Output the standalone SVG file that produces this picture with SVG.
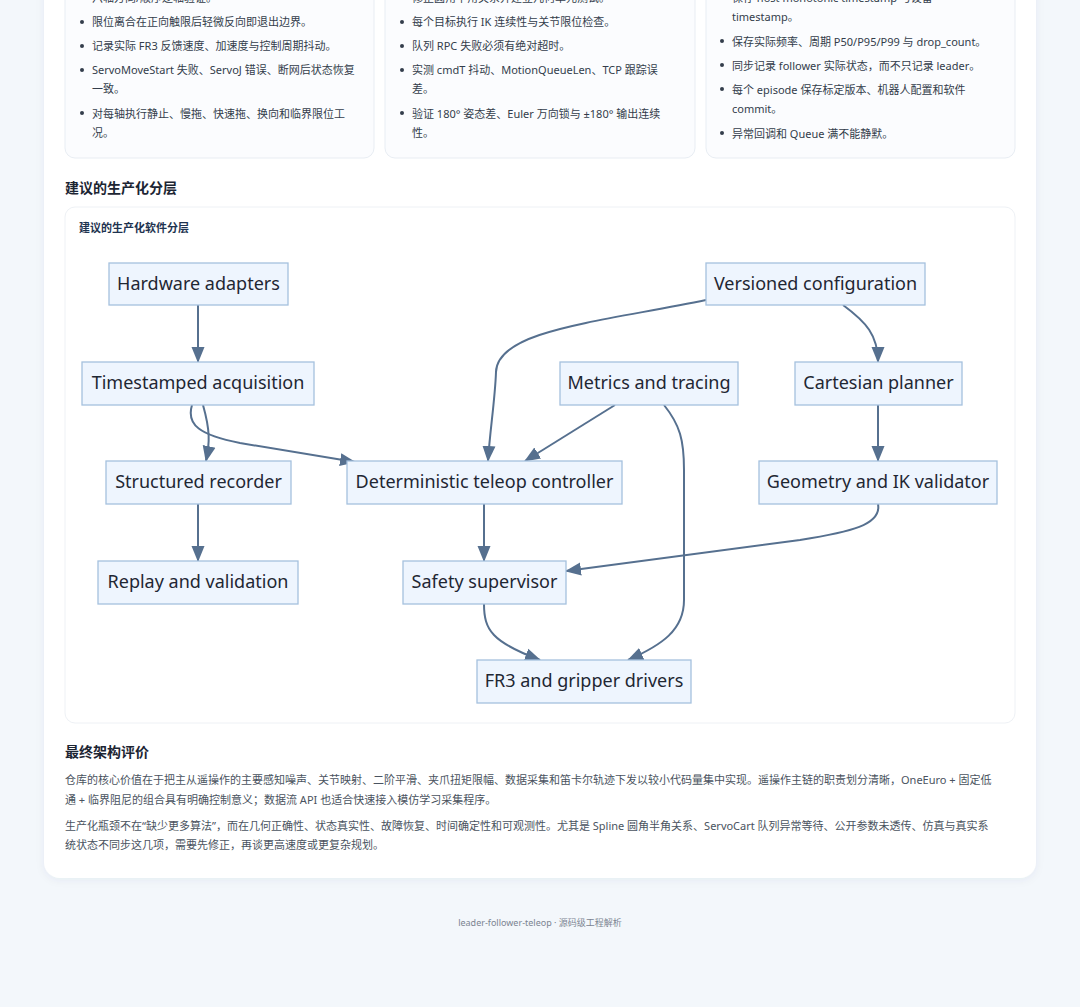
<svg xmlns="http://www.w3.org/2000/svg" width="1080" height="1007" viewBox="0 0 1080 1007">
<defs>
<marker id="arr" markerUnits="userSpaceOnUse" markerWidth="16" markerHeight="14" viewBox="0 0 16 14" refX="15" refY="7" orient="auto">
<path d="M0,0.5 L16,7 L0,13.5 z" fill="#56708f"/>
</marker>
<filter id="sh" x="-5%" y="-5%" width="110%" height="110%">
<feDropShadow dx="0" dy="2" stdDeviation="4" flood-color="#1e3a5f" flood-opacity="0.06"/>
</filter>
</defs>
<style>
.bul{font-family:"Noto Sans","Noto Sans CJK SC",sans-serif;font-size:11px;fill:#333d4b}
.dot{fill:#333d4b}
.card{fill:#fbfcfe;stroke:#e8edf3;stroke-width:1}
.h2{font-family:"Noto Sans","Noto Sans CJK SC",sans-serif;font-size:14px;font-weight:700;fill:#1c2533}
.para{font-family:"Noto Sans","Noto Sans CJK SC",sans-serif;font-size:11px;fill:#4a5360}
.node rect{fill:#eef5fe;stroke:#a5c1de;stroke-width:1.3}
.node text{font-family:"Noto Sans","Noto Sans CJK SC",sans-serif;font-size:18px;fill:#1f2733;text-anchor:middle}
.edge{fill:none;stroke:#56708f;stroke-width:2;marker-end:url(#arr)}
</style>
<rect x="0" y="0" width="1080" height="1007" fill="#f3f7fb"/>
<rect x="44" y="-40" width="992" height="918" rx="16" fill="#ffffff" filter="url(#sh)"/>

<g id="card-left">
<rect class="card" x="65" y="-20" width="309" height="178" rx="10"/>
<circle class="dot" cx="82" cy="-2" r="2"/><text class="bul" x="92" y="2">六轴方向/顺序逐轴验证。</text>
<circle class="dot" cx="82" cy="22" r="2"/><text class="bul" x="92" y="26">限位离合在正向触限后轻微反向即退出边界。</text>
<circle class="dot" cx="82" cy="46" r="2"/><text class="bul" x="92" y="50">记录实际 FR3 反馈速度、加速度与控制周期抖动。</text>
<circle class="dot" cx="82" cy="70" r="2"/><text class="bul" x="92" y="74">ServoMoveStart 失败、ServoJ 错误、断网后状态恢复</text>
<text class="bul" x="92" y="93">一致。</text>
<circle class="dot" cx="82" cy="113" r="2"/><text class="bul" x="92" y="118">对每轴执行静止、慢拖、快速拖、换向和临界限位工</text>
<text class="bul" x="92" y="137">况。</text>
</g>

<g id="card-middle">
<rect class="card" x="385" y="-20" width="310" height="178" rx="10"/>
<circle class="dot" cx="402" cy="-2" r="2"/><text class="bul" x="412" y="2">修正圆角半角关系并建立几何单元测试。</text>
<circle class="dot" cx="402" cy="22" r="2"/><text class="bul" x="412" y="26">每个目标执行 IK 连续性与关节限位检查。</text>
<circle class="dot" cx="402" cy="46" r="2"/><text class="bul" x="412" y="50">队列 RPC 失败必须有绝对超时。</text>
<circle class="dot" cx="402" cy="70" r="2"/><text class="bul" x="412" y="74">实测 cmdT 抖动、MotionQueueLen、TCP 跟踪误</text>
<text class="bul" x="412" y="93">差。</text>
<circle class="dot" cx="402" cy="113" r="2"/><text class="bul" x="412" y="118">验证 180° 姿态差、Euler 万向锁与 ±180° 输出连续</text>
<text class="bul" x="412" y="137">性。</text>
</g>

<g id="card-right">
<rect class="card" x="706" y="-20" width="309" height="178" rx="10"/>
<circle class="dot" cx="722" cy="-2" r="2"/><text class="bul" x="732" y="2">保存 host monotonic timestamp 与设备</text>
<text class="bul" x="732" y="21">timestamp。</text>
<circle class="dot" cx="722" cy="41" r="2"/><text class="bul" x="732" y="46">保存实际频率、周期 P50/P95/P99 与 drop_count。</text>
<circle class="dot" cx="722" cy="65" r="2"/><text class="bul" x="732" y="70">同步记录 follower 实际状态，而不只记录 leader。</text>
<circle class="dot" cx="722" cy="89" r="2"/><text class="bul" x="732" y="94">每个 episode 保存标定版本、机器人配置和软件</text>
<text class="bul" x="732" y="113">commit。</text>
<circle class="dot" cx="722" cy="133" r="2"/><text class="bul" x="732" y="138">异常回调和 Queue 满不能静默。</text>
</g>

<text class="h2" x="65" y="193">建议的生产化分层</text>

<g id="diagram-card">
<rect x="65" y="207" width="950" height="516" rx="10" fill="#ffffff" stroke="#eef1f5"/>
<text x="79" y="232" font-family="'Noto Sans','Noto Sans CJK SC',sans-serif" font-size="11" font-weight="700" fill="#1e3350">建议的生产化软件分层</text>
</g>

<g id="connectors">
<path class="edge" d="M198,305 L198,362"/>
<path class="edge" d="M203,405 C210,430 210,442 206,461"/>
<path class="edge" d="M192,405 C186,425 200,435 240,443 L355,462"/>
<path class="edge" d="M706,300 C600,322 497,330 496,372 C495,400 490,430 488,461"/>
<path class="edge" d="M843,305 C866,322 878,335 878,362"/>
<path class="edge" d="M615,405 L525,461"/>
<path class="edge" d="M664,405 C680,425 684,440 684,470 L684,600 C684,630 662,645 628,660"/>
<path class="edge" d="M878,405 L878,461"/>
<path class="edge" d="M878,504 C882,525 850,532 800,540 L566,571"/>
<path class="edge" d="M484,504 L484,561"/>
<path class="edge" d="M198,504 L198,561"/>
<path class="edge" d="M484,604 C484,630 492,642 540,660"/>
</g>

<g id="n-hardware" class="node"><rect x="109" y="263" width="179" height="42"/><text x="198.5" y="290">Hardware adapters</text></g>
<g id="n-config" class="node"><rect x="706" y="263" width="219" height="42"/><text x="815.5" y="290">Versioned configuration</text></g>
<g id="n-acq" class="node"><rect x="82" y="362" width="232" height="43"/><text x="198" y="389">Timestamped acquisition</text></g>
<g id="n-metrics" class="node"><rect x="560" y="362" width="178" height="43"/><text x="649" y="389">Metrics and tracing</text></g>
<g id="n-planner" class="node"><rect x="795" y="362" width="167" height="43"/><text x="878.5" y="389">Cartesian planner</text></g>
<g id="n-recorder" class="node"><rect x="106" y="461" width="185" height="43"/><text x="198.5" y="488">Structured recorder</text></g>
<g id="n-controller" class="node"><rect x="347" y="461" width="275" height="43"/><text x="484.5" y="488">Deterministic teleop controller</text></g>
<g id="n-ik" class="node"><rect x="759" y="461" width="238" height="43"/><text x="878" y="488">Geometry and IK validator</text></g>
<g id="n-replay" class="node"><rect x="98" y="561" width="200" height="43"/><text x="198" y="588">Replay and validation</text></g>
<g id="n-safety" class="node"><rect x="403" y="561" width="163" height="43"/><text x="484.5" y="588">Safety supervisor</text></g>
<g id="n-drivers" class="node"><rect x="477" y="660" width="214" height="43"/><text x="584" y="687">FR3 and gripper drivers</text></g>

<text class="h2" x="65" y="757">最终架构评价</text>
<text class="para" x="65" y="784">仓库的核心价值在于把主从遥操作的主要感知噪声、关节映射、二阶平滑、夹爪扭矩限幅、数据采集和笛卡尔轨迹下发以较小代码量集中实现。遥操作主链的职责划分清晰，OneEuro + 固定低</text>
<text class="para" x="65" y="804">通 + 临界阻尼的组合具有明确控制意义；数据流 API 也适合快速接入模仿学习采集程序。</text>
<text class="para" x="65" y="830">生产化瓶颈不在“缺少更多算法”，而在几何正确性、状态真实性、故障恢复、时间确定性和可观测性。尤其是 Spline 圆角半角关系、ServoCart 队列异常等待、公开参数未透传、仿真与真实系</text>
<text class="para" x="65" y="849">统状态不同步这几项，需要先修正，再谈更高速度或更复杂规划。</text>

<text x="540" y="926" text-anchor="middle" font-family="'Noto Sans','Noto Sans CJK SC',sans-serif" font-size="9" fill="#7b8491">leader-follower-teleop · 源码级工程解析</text>
</svg>
